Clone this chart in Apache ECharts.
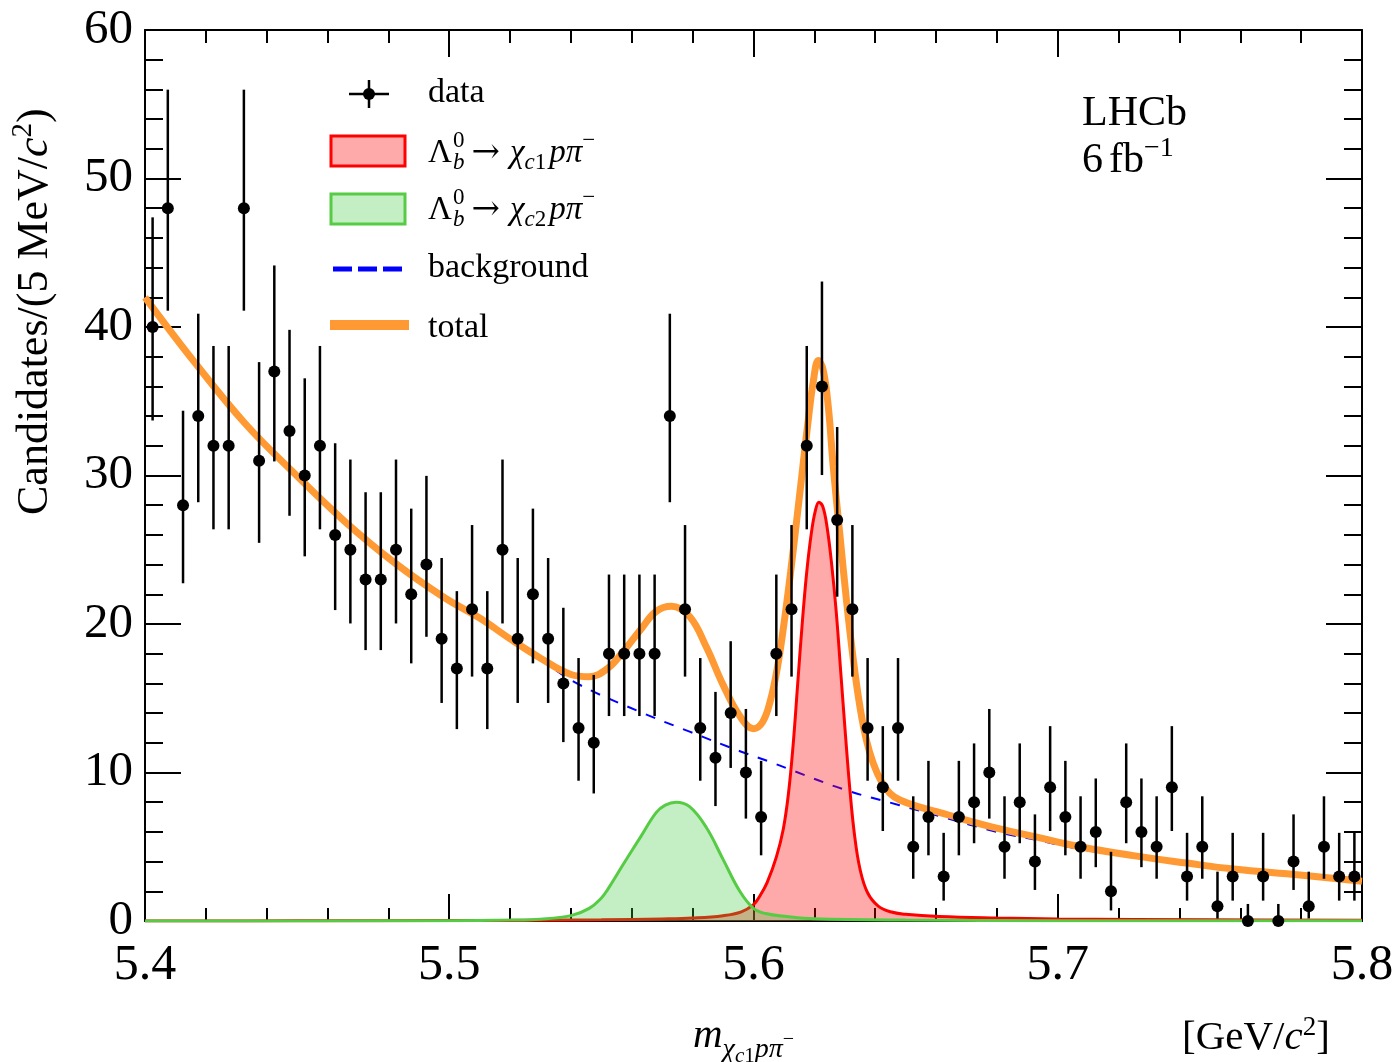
<!DOCTYPE html>
<html>
<head>
<meta charset="utf-8">
<script src="https://cdn.jsdelivr.net/npm/echarts/dist/echarts.min.js"></script>
<style>
html,body{margin:0;padding:0;background:#fff;}
#chart{width:1399px;height:1062px;}
</style>
</head>
<body>
<div id="chart"></div>
<script>
// ---------------- data ----------------
const binStart = 5.4;
const binWidth = 0.005;
const counts = [40,48,28,34,32,32,48,31,37,33,30,32,26,25,23,23,25,22,24,19,
                17,21,17,25,19,22,19,16,13,12,18,18,18,18,34,21,13,11,14,10,
                7,18,21,32,36,27,21,13,9,13,5,7,3,7,8,10,5,8,4,9,
                7,5,6,2,8,6,5,9,3,5,1,3,0,3,0,4,1,5,3,3];

const totalX = [5.4000,5.4164,5.4329,5.4493,5.4657,5.4822,5.4986,5.5100,5.5200,5.5300,5.5400,5.5460,5.5520,5.5570,5.5630,5.5680,5.5730,5.5790,5.5845,5.5900,5.5955,5.6000,5.6030,5.6055,5.6078,5.6100,5.6122,5.6142,5.6160,5.6178,5.6197,5.6213,5.6229,5.6246,5.6262,5.6284,5.6306,5.6328,5.6350,5.6372,5.6394,5.6420,5.6448,5.6481,5.6550,5.6613,5.6673,5.6810,5.6920,5.7073,5.7248,5.7424,5.7577,5.7796,5.8000];
const totalY = [42.0,37.6,33.5,30.1,26.9,24.1,21.75,20.4,19.0,17.7,16.6,16.45,17.0,18.1,19.65,20.85,21.2,20.5,18.45,15.9,13.8,12.95,13.4,14.8,17.0,20.0,23.5,27.0,30.2,33.4,36.4,37.75,37.1,34.6,30.6,26.0,21.5,17.6,14.4,12.1,10.6,9.4,8.6,8.15,7.65,7.3,6.95,6.2,5.7,5.0,4.4,3.9,3.5,3.1,2.68];

const bkgX = [5.4000,5.4164,5.4329,5.4493,5.4657,5.4822,5.4986,5.5100,5.5200,5.5300,5.5415,5.5625,5.5790,5.5960,5.6050,5.6120,5.6306,5.6480,5.6613,5.6810,5.6920,5.7073,5.7248,5.7424,5.7577,5.7796,5.8000];
const bkgY = [42.0,37.6,33.5,30.1,26.9,24.1,21.7,20.3,18.9,17.6,16.05,14.1,12.75,11.4,10.75,10.2,8.8,7.8,7.05,5.95,5.5,4.85,4.3,3.82,3.43,3.06,2.62];

const chic1X = [5.4000,5.4500,5.5000,5.5300,5.5500,5.5700,5.5800,5.5900,5.5960,5.6000,5.6020,5.6045,5.6075,5.6098,5.6115,5.6130,5.6145,5.6160,5.6175,5.6190,5.6203,5.6215,5.6228,5.6242,5.6257,5.6272,5.6287,5.6302,5.6317,5.6332,5.6350,5.6375,5.6410,5.6450,5.6500,5.6610,5.6800,5.7000,5.7500,5.8000];
const chic1Y = [0.00,0.01,0.03,0.05,0.08,0.14,0.20,0.36,0.62,1.10,1.65,2.6,4.3,6.2,8.6,11.8,15.9,20.0,23.5,26.1,27.6,28.2,27.9,26.5,24.0,20.8,16.7,12.6,8.8,5.8,3.5,1.9,1.0,0.62,0.45,0.30,0.20,0.14,0.08,0.05];

const chic2X = [5.4000,5.4800,5.5000,5.5200,5.5300,5.5400,5.5460,5.5500,5.5520,5.5570,5.5630,5.5680,5.5710,5.5745,5.5790,5.5845,5.5900,5.5955,5.6000,5.6040,5.6110,5.6200,5.6500,5.7000,5.8000];
const chic2Y = [0.00,0.01,0.02,0.06,0.12,0.36,0.85,1.55,2.1,3.75,5.7,7.3,7.8,8.0,7.7,6.3,4.15,2.0,0.85,0.5,0.3,0.15,0.06,0.02,0.01];

const xTickLabels = ['5.4','5.5','5.6','5.7','5.8'];
const yTickLabels = ['0','10','20','30','40','50','60'];

// ---------------- helpers ----------------
function pairs(xs, ys){ return xs.map((x,i)=>[x, ys[i]]); }
// Poisson (Gehrels) 68% interval from the counts
function pLow(n){ if(n===0) return 0; const t = 1 - 1/(9*n) - 1/(3*Math.sqrt(n)); return n*t*t*t; }
function pHigh(n){ if(n===0) return 1.148; return n + Math.sqrt(n+0.75) + 1; }

const points = counts.map((n,i)=>[binStart + binWidth*(i+0.5), n]);
const errBars = counts.map((n,i)=>[binStart + binWidth*(i+0.5), pLow(n), pHigh(n)]);

const FONT = '"Liberation Serif","Times New Roman",serif';
const ARROWFONT = '"DejaVu Serif","Liberation Serif",serif';
const ctx = document.createElement('canvas').getContext('2d');
function fontStr(s, it, fam){ return (it ? 'italic ' : '') + s + 'px ' + (fam || FONT); }
function tw(t, s, it, fam){ ctx.font = fontStr(s, it, fam); return ctx.measureText(t).width; }
function mathText(pieces, x0, base){
  const els = [];
  let x = x0, stackW = 0;
  pieces.forEach(p=>{
    if (p.gap !== undefined){ x += p.gap; return; }
    const w = tw(p.t, p.s, p.i, p.f);
    els.push({
      type:'text', x: x, y: base + (p.dy||0) - 0.33*p.s, z: 100,
      style:{ text:p.t, font: fontStr(p.s, p.i, p.f), fill:'#000',
              textAlign:'left', textVerticalAlign:'middle', align:'left', verticalAlign:'middle' }
    });
    if (p.stack){ stackW = w; }
    else { x += Math.max(w, stackW); stackW = 0; }
  });
  return els;
}

const decay = (k)=>[
  {t:'Λ',s:33},{gap:1},{t:'b',s:23,i:1,dy:7,stack:1},{t:'0',s:23,dy:-15},{gap:7},
  {t:'→',s:34,f:ARROWFONT},{gap:10},{t:'χ',s:33,i:1},{t:'c',s:23,i:1,dy:7},{t:k,s:23,dy:7},{gap:3},
  {t:'p',s:33,i:1},{t:'π',s:33,i:1},{t:'−',s:23,dy:-15}
];

const graphics = [];
// legend: data
graphics.push({type:'line', z:100, shape:{x1:349,y1:94,x2:389,y2:94}, style:{stroke:'#000',lineWidth:2.5}});
graphics.push({type:'line', z:100, shape:{x1:369,y1:80,x2:369,y2:108}, style:{stroke:'#000',lineWidth:2.5}});
graphics.push({type:'circle', z:101, shape:{cx:369,cy:94,r:6}, style:{fill:'#000'}});
graphics.push(...mathText([{t:'data',s:34}], 428, 104));
// legend: chi_c1
graphics.push({type:'rect', z:100, shape:{x:331,y:136,width:74,height:30}, style:{fill:'rgba(255,0,0,0.333)',stroke:'#ff0000',lineWidth:3}});
graphics.push(...mathText(decay('1'), 428, 164));
// legend: chi_c2
graphics.push({type:'rect', z:100, shape:{x:331,y:194,width:74,height:30}, style:{fill:'rgba(60,200,60,0.3)',stroke:'#55cc44',lineWidth:3}});
graphics.push(...mathText(decay('2'), 428, 221));
// legend: background
graphics.push({type:'line', z:100, shape:{x1:333,y1:269,x2:403,y2:269}, style:{stroke:'#0000ff',lineWidth:5,lineDash:[19,6]}});
graphics.push(...mathText([{t:'background',s:34}], 428, 279));
// legend: total
graphics.push({type:'line', z:100, shape:{x1:330,y1:325,x2:409,y2:325}, style:{stroke:'#ff9933',lineWidth:10}});
graphics.push(...mathText([{t:'total',s:34}], 428, 339));
// LHCb label
graphics.push(...mathText([{t:'LHCb',s:42}], 1082, 128));
graphics.push(...mathText([{t:'6',s:42},{gap:6},{t:'fb',s:42},{t:'−1',s:28,dy:-17}], 1082, 175));
// x axis title
graphics.push(...mathText([{t:'m',s:41,i:1},{t:'χ',s:28,i:1,dy:9},{t:'c',s:21,i:1,dy:13},{t:'1',s:21,dy:13},
  {t:'p',s:28,i:1,dy:9},{t:'π',s:28,i:1,dy:9},{t:'−',s:20,dy:-4}], 693, 1050));
graphics.push(...mathText([{t:'[GeV/',s:41},{t:'c',s:41,i:1},{t:'2',s:27,dy:-15},{t:']',s:41}], 1182, 1052));
// y axis title (rotated)
graphics.push({type:'group', x:50, y:515, rotation:Math.PI/2,
  children: mathText([{t:'Candidates/(5 MeV/',s:44},{t:'c',s:44,i:1},{t:'2',s:29,dy:-17},{t:')',s:44}], 0, 0)});

// ---------------- chart ----------------
const chart = echarts.init(document.getElementById('chart'), null, {renderer:'canvas'});
const axisBase = {
  type:'value', splitLine:{show:false},
  axisLine:{show:true, onZero:false, lineStyle:{color:'#000', width:2}},
};
const xAxisCommon = Object.assign({}, axisBase, {
  min:5.4, max:5.8, interval:0.1,
  axisTick:{show:true, inside:true, length:27, lineStyle:{color:'#000', width:2}},
  minorTick:{show:true, splitNumber:5, length:13, lineStyle:{color:'#000', width:2}},
});
const yAxisCommon = Object.assign({}, axisBase, {
  min:0, max:60, interval:10,
  axisTick:{show:true, inside:true, length:36, lineStyle:{color:'#000', width:2}},
  minorTick:{show:true, splitNumber:5, length:18, lineStyle:{color:'#000', width:2}},
});

chart.setOption({
  animation:false,
  backgroundColor:'#ffffff',
  grid:{left:145, top:30, right:37, bottom:141, containLabel:false, outerBoundsMode:'none'},
  xAxis:[
    Object.assign({}, xAxisCommon, {position:'bottom',
      axisLabel:{show:true, margin:20, color:'#000', fontFamily:FONT, fontSize:50, showMinLabel:true, showMaxLabel:true,
        formatter:(v)=>{ const i = Math.round((v-5.4)/0.1); return xTickLabels[i] || ''; }}}),
    Object.assign({}, xAxisCommon, {position:'top', axisLabel:{show:false}})
  ],
  yAxis:[
    Object.assign({}, yAxisCommon, {position:'left',
      axisLabel:{show:true, margin:12, color:'#000', fontFamily:FONT, fontSize:49, showMinLabel:true, showMaxLabel:true,
        formatter:(v)=>{ const i = Math.round(v/10); return yTickLabels[i] || ''; }}}),
    Object.assign({}, yAxisCommon, {position:'right', axisLabel:{show:false}})
  ],
  graphic: graphics,
  series:[
    {type:'line', name:'background', data:pairs(bkgX,bkgY), xAxisIndex:0, yAxisIndex:0,
     symbol:'none', smooth:0.4, z:2,
     lineStyle:{color:'#0000ff', width:2, type:[10,10], opacity:1}},
    {type:'line', name:'chic1', data:pairs(chic1X,chic1Y), symbol:'none', smooth:0.4, z:3,
     lineStyle:{color:'#ff0000', width:3, opacity:1}, areaStyle:{color:'rgba(255,0,0,0.333)', origin:'start', opacity:1}},
    {type:'line', name:'chic2', data:pairs(chic2X,chic2Y), symbol:'none', smooth:0.4, z:4,
     lineStyle:{color:'#55cc44', width:3, opacity:1}, areaStyle:{color:'rgba(60,200,60,0.3)', origin:'start', opacity:1}},
    {type:'line', name:'total', data:pairs(totalX,totalY), symbol:'none', smooth:0.4, z:5,
     lineStyle:{color:'#ff9933', width:7, opacity:1}},
    {type:'custom', name:'errors', data:errBars, z:6,
     renderItem:(params, api)=>{
       const x = api.value(0);
       const p1 = api.coord([x, api.value(1)]);
       const p2 = api.coord([x, api.value(2)]);
       return {type:'line', shape:{x1:p1[0], y1:p1[1], x2:p2[0], y2:p2[1]}, style:{stroke:'#000', lineWidth:2.5, opacity:1}};
     }},
    {type:'scatter', name:'data', data:points, symbol:'circle', symbolSize:12, z:7, clip:false,
     itemStyle:{color:'#000', opacity:1}}
  ]
});
</script>
</body>
</html>
